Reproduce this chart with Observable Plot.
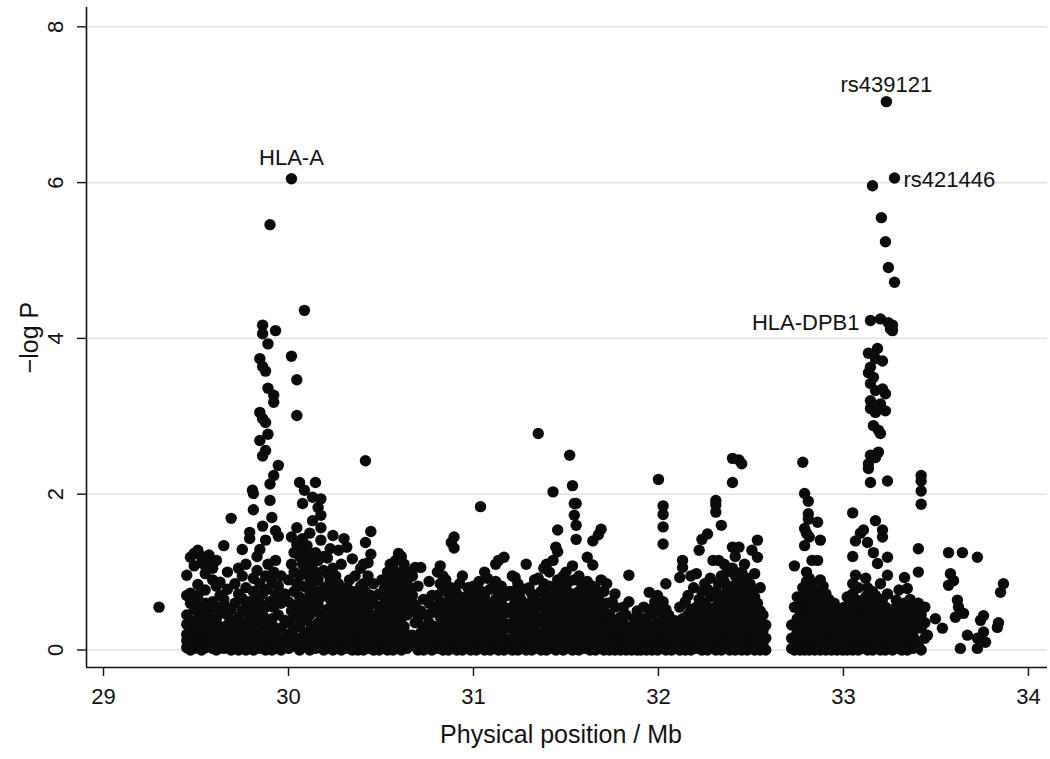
<!DOCTYPE html>
<html><head><meta charset="utf-8">
<script src="https://cdn.jsdelivr.net/npm/d3@7"></script>
<script src="https://cdn.jsdelivr.net/npm/@observablehq/plot@0.6"></script>
<style>body{margin:0;background:#fff}</style>
</head><body><div id="chart"></div>
<script>
// Each entry: [position (Mb), -log P values of SNPs at that position ...]
const regionA = [
[29.3, 0.55],
[29.45, 0.03, 0.12, 0.2, 0.33, 0.45, 0.7, 0.96],
[29.47, 0.0, 0.08, 0.16, 0.27, 0.38, 0.6, 0.73, 1.19],
[29.49, 0.02, 0.1, 0.22, 0.3, 0.52, 0.62, 1.08, 1.24],
[29.51, 0.05, 0.14, 0.25, 0.4, 0.7, 0.84, 1.28],
[29.53, 0.0, 0.09, 0.18, 0.3, 0.45, 0.56, 1.12, 1.2],
[29.55, 0.03, 0.12, 0.21, 0.35, 0.6, 0.77, 0.98, 1.08],
[29.57, 0.06, 0.15, 0.28, 0.42, 0.5, 1.15, 1.22],
[29.59, 0.02, 0.1, 0.2, 0.33, 0.62, 0.9, 1.05],
[29.61, 0.0, 0.12, 0.25, 0.4, 0.55, 0.82, 1.15],
[29.63, 0.04, 0.16, 0.3, 0.47, 0.7, 0.87],
[29.65, 0.02, 0.1, 0.22, 0.58, 0.65, 1.34],
[29.67, 0.05, 0.18, 0.32, 0.45, 0.78, 1.0],
[29.69, 0.0, 0.08, 0.26, 0.38, 0.52, 1.69],
[29.71, 0.02, 0.13, 0.2, 0.6, 0.85],
[29.73, 0.0, 0.07, 0.3, 0.42, 0.72, 1.05],
[29.75, 0.04, 0.15, 0.24, 0.5, 0.66, 0.95, 1.29],
[29.77, 0.0, 0.1, 0.35, 0.58, 0.8, 1.1],
[29.79, 0.03, 0.18, 0.28, 0.45, 0.62, 1.43, 1.51],
[29.805, 2.05],
[29.81, 0.0, 0.1, 0.22, 0.4, 0.55, 0.75, 0.92, 1.8, 2.01],
[29.83, 0.05, 0.15, 0.3, 0.5, 0.68, 1.02, 1.2],
[29.845, 0.02, 0.2, 0.38, 0.6, 0.85, 1.29, 2.69, 3.05, 3.74],
[29.86, 0.08, 0.45, 0.72, 1.59, 2.49, 2.97, 3.64, 4.06, 4.17],
[29.876, 0.0, 0.25, 0.55, 0.95, 1.41, 2.56, 2.92, 3.58],
[29.889, 0.12, 0.35, 0.78, 1.1, 2.77, 3.36, 3.93],
[29.9, 0.04, 0.62, 1.92, 2.13, 5.46],
[29.91, 0.0, 0.18, 0.4, 0.88, 1.7],
[29.92, 0.08, 0.3, 0.55, 1.0, 2.24, 3.18, 3.27],
[29.93, 0.02, 0.22, 0.7, 1.15, 1.53, 4.1],
[29.945, 0.12, 0.45, 0.82, 1.46, 2.37],
[29.96, 0.0, 0.28, 0.6, 0.95],
[29.98, 0.05, 0.15, 0.38, 0.72],
[30.0, 0.02, 0.2, 0.35, 0.62, 0.9],
[30.016, 0.1, 0.5, 1.1, 1.45, 3.77, 6.05],
[30.03, 0.05, 0.28, 0.42, 0.75, 1.0, 1.25],
[30.045, 0.15, 0.58, 0.85, 1.35, 1.57, 3.01, 3.47],
[30.06, 0.0, 0.3, 0.48, 0.68, 0.95, 1.2, 2.15],
[30.076, 0.1, 0.4, 0.6, 0.82, 1.1, 1.43, 1.88],
[30.086, 0.22, 0.52, 1.0, 1.3, 2.05, 4.36],
[30.1, 0.03, 0.15, 0.38, 0.55, 0.8, 1.05, 1.34],
[30.115, 0.0, 0.25, 0.45, 0.7, 0.92, 1.2, 1.5],
[30.13, 0.08, 0.3, 0.62, 0.85, 1.1, 1.66, 1.96],
[30.146, 0.02, 0.2, 0.5, 0.75, 1.0, 1.25, 2.15],
[30.16, 0.12, 0.35, 0.58, 0.9, 1.15, 1.83],
[30.175, 0.05, 0.28, 0.45, 0.68, 1.41, 1.57, 1.73, 1.94],
[30.19, 0.0, 0.18, 0.4, 0.8, 1.02, 1.2],
[30.21, 0.02, 0.14, 0.3, 0.52, 0.75, 0.98, 1.18],
[30.225, 0.08, 0.25, 0.45, 0.65, 0.88, 1.3],
[30.24, 0.0, 0.18, 0.36, 0.6, 0.82, 1.05, 1.47],
[30.255, 0.1, 0.3, 0.5, 0.72, 0.95],
[30.27, 0.04, 0.2, 0.4, 0.62, 0.85, 1.28],
[30.285, 0.0, 0.12, 0.33, 0.55, 0.78, 1.1],
[30.3, 0.06, 0.25, 0.45, 0.68, 1.43],
[30.315, 0.02, 0.15, 0.35, 0.58, 0.8, 1.32],
[30.33, 0.08, 0.22, 0.42, 0.65, 0.9],
[30.345, 0.0, 0.12, 0.3, 0.52, 0.75, 1.17],
[30.36, 0.05, 0.2, 0.4, 0.6, 0.95],
[30.375, 0.0, 0.1, 0.28, 0.48, 0.7],
[30.39, 0.03, 0.15, 0.35, 0.55, 0.82, 1.05],
[30.405, 0.0, 0.1, 0.25, 0.45, 0.62, 0.85, 1.1],
[30.416, 0.05, 0.18, 0.38, 0.55, 0.75, 1.38, 2.43],
[30.43, 0.02, 0.12, 0.3, 0.5, 0.95, 1.12],
[30.445, 0.08, 0.22, 0.4, 0.7, 1.23, 1.52],
[30.46, 0.0, 0.15, 0.32, 0.6, 0.85],
[30.475, 0.05, 0.1, 0.28, 0.45],
[30.49, 0.0, 0.2, 0.38, 0.55, 0.72]
];
const regionB = [
[30.505, 0.02, 0.15, 0.3, 0.5, 0.7, 0.9],
[30.52, 0.08, 0.2, 0.42, 0.6, 0.8],
[30.535, 0.0, 0.12, 0.35, 0.55, 0.78, 1.0],
[30.55, 0.05, 0.25, 0.45, 0.68, 0.88, 1.1],
[30.565, 0.0, 0.18, 0.38, 0.6, 0.82, 1.05],
[30.58, 0.1, 0.3, 0.52, 0.72, 0.95, 1.15],
[30.595, 0.03, 0.22, 0.45, 0.65, 0.9, 1.24],
[30.61, 0.0, 0.15, 0.4, 0.6, 0.8, 1.0, 1.2],
[30.625, 0.08, 0.3, 0.52, 0.75, 0.95, 1.1],
[30.64, 0.02, 0.2, 0.45, 0.68, 0.88],
[30.655, 0.12, 0.6, 0.8, 1.0],
[30.67, 0.19, 0.5, 0.7, 0.95],
[30.685, 0.05, 0.35, 0.58, 1.06],
[30.7, 0.0, 0.1, 0.4, 0.82],
[30.715, 0.05, 0.22, 0.5, 1.06],
[30.73, 0.0, 0.12, 0.3, 0.65],
[30.745, 0.08, 0.25, 0.45],
[30.76, 0.02, 0.15, 0.35, 0.6, 0.88],
[30.775, 0.0, 0.2, 0.48, 0.7],
[30.79, 0.05, 0.12, 0.3, 0.55],
[30.805, 0.02, 0.15, 0.3, 0.5, 0.7, 1.0],
[30.82, 0.08, 0.22, 0.42, 0.62, 0.85, 1.08],
[30.835, 0.0, 0.12, 0.35, 0.55, 0.78, 0.95],
[30.85, 0.05, 0.2, 0.4, 0.6, 0.9],
[30.865, 0.0, 0.1, 0.28, 0.5, 0.72],
[30.88, 0.03, 0.18, 0.38, 0.58, 0.8, 1.38],
[30.895, 0.08, 0.25, 0.45, 0.65, 1.31, 1.45],
[30.91, 0.0, 0.12, 0.3, 0.52, 0.72],
[30.925, 0.05, 0.2, 0.4, 0.6, 0.85],
[30.94, 0.0, 0.15, 0.35, 0.55, 0.95],
[30.955, 0.08, 0.25, 0.45, 0.68],
[30.97, 0.02, 0.18, 0.38, 0.6, 0.8],
[30.985, 0.0, 0.1, 0.3, 0.5, 0.7],
[31.0, 0.05, 0.2, 0.4, 0.62, 0.82],
[31.015, 0.0, 0.12, 0.3, 0.5, 0.7],
[31.03, 0.08, 0.25, 0.45, 0.65, 0.88],
[31.038, 1.84],
[31.045, 0.02, 0.15, 0.35, 0.55, 0.75],
[31.06, 0.0, 0.1, 0.28, 0.48, 0.68, 1.0],
[31.075, 0.05, 0.22, 0.42, 0.6, 0.92],
[31.09, 0.0, 0.15, 0.32, 0.52, 0.78],
[31.105, 0.02, 0.18, 0.38, 0.58, 0.8],
[31.12, 0.08, 0.25, 0.45, 0.65, 0.88, 1.1],
[31.135, 0.0, 0.12, 0.32, 0.52, 0.72, 1.15],
[31.15, 0.05, 0.2, 0.4, 0.6, 0.82],
[31.165, 0.0, 0.15, 0.35, 0.55, 1.19],
[31.18, 0.08, 0.28, 0.48, 0.7],
[31.195, 0.02, 0.12, 0.3, 0.5, 0.75],
[31.21, 0.0, 0.15, 0.35, 0.55, 0.75, 0.95],
[31.225, 0.05, 0.22, 0.42, 0.62, 0.93],
[31.24, 0.0, 0.1, 0.3, 0.5, 0.7, 0.85],
[31.255, 0.08, 0.25, 0.45, 0.65],
[31.27, 0.02, 0.18, 0.38, 0.58, 0.78],
[31.285, 0.0, 0.12, 0.32, 0.52, 1.1],
[31.3, 0.05, 0.2, 0.4, 0.6, 0.8],
[31.315, 0.0, 0.12, 0.32, 0.52, 0.72],
[31.33, 0.08, 0.25, 0.45, 0.65, 0.9],
[31.35, 0.02, 0.18, 0.38, 0.58, 0.92, 2.78],
[31.365, 0.0, 0.15, 0.35, 0.55, 0.75],
[31.38, 0.05, 0.22, 0.42, 0.62, 0.85, 1.05],
[31.395, 0.0, 0.1, 0.3, 0.5, 0.7, 1.1],
[31.41, 0.02, 0.2, 0.4, 0.6, 0.82, 1.0],
[31.43, 0.08, 0.28, 0.48, 0.68, 1.15, 2.03],
[31.445, 0.0, 0.15, 0.35, 0.55, 0.78, 1.32],
[31.455, 0.1, 0.45, 0.9, 1.26, 1.54],
[31.47, 0.05, 0.22, 0.42, 0.62, 0.85],
[31.485, 0.0, 0.12, 0.32, 0.52, 0.72, 0.95]
];
const regionC = [
[31.5, 0.02, 0.18, 0.38, 0.58, 0.8, 1.0],
[31.515, 0.08, 0.25, 0.45, 0.65, 0.88],
[31.52, 2.5],
[31.535, 0.0, 0.12, 0.32, 0.52, 0.72, 1.08, 2.11],
[31.545, 0.3, 0.9, 1.73, 1.88],
[31.555, 0.05, 0.2, 0.42, 0.62, 1.42, 1.6, 1.88],
[31.57, 0.0, 0.15, 0.35, 0.55, 0.75, 0.95],
[31.585, 0.08, 0.28, 0.48, 0.68, 0.85],
[31.6, 0.02, 0.15, 0.35, 0.55, 0.75],
[31.615, 0.08, 0.25, 0.45, 0.65, 0.88, 1.19],
[31.63, 0.0, 0.12, 0.3, 0.5, 0.7],
[31.645, 0.05, 0.2, 0.4, 0.6, 0.82, 1.09, 1.4],
[31.66, 0.0, 0.15, 0.35, 0.55, 0.78],
[31.675, 0.1, 0.28, 0.48, 0.68, 1.48],
[31.69, 0.02, 0.18, 0.38, 0.58, 0.9, 1.55],
[31.705, 0.0, 0.12, 0.3, 0.5, 0.75],
[31.72, 0.05, 0.2, 0.4, 0.6, 0.85],
[31.735, 0.0, 0.1, 0.28, 0.45],
[31.75, 0.08, 0.22, 0.4, 0.62],
[31.765, 0.0, 0.15, 0.35, 0.55, 0.72],
[31.78, 0.05, 0.12, 0.3],
[31.795, 0.0, 0.2, 0.42],
[31.81, 0.02, 0.15, 0.35, 0.55],
[31.825, 0.0, 0.1, 0.25, 0.45],
[31.84, 0.05, 0.2, 0.62, 0.96],
[31.855, 0.0, 0.12, 0.3],
[31.87, 0.08, 0.22, 0.4],
[31.885, 0.0, 0.15, 0.5],
[31.905, 0.0, 0.12, 0.3],
[31.92, 0.05, 0.2, 0.4, 0.55],
[31.935, 0.0, 0.15, 0.35],
[31.95, 0.08, 0.25, 0.52, 0.74],
[31.965, 0.0, 0.1, 0.3, 0.45],
[31.98, 0.05, 0.18, 0.62],
[31.995, 0.0, 0.12, 0.35, 0.7],
[32.0, 0.02, 0.15, 0.3, 0.5, 2.19],
[32.025, 0.05, 0.2, 0.4, 0.62, 1.36, 1.58, 1.74, 1.85],
[32.04, 0.0, 0.12, 0.28, 0.52, 0.85],
[32.055, 0.05, 0.18, 0.35, 0.45],
[32.07, 0.0, 0.1, 0.25],
[32.085, 0.08, 0.2, 0.38],
[32.1, 0.02, 0.15, 0.35],
[32.115, 0.0, 0.1, 0.25, 0.55, 0.93],
[32.13, 0.05, 0.2, 0.4, 1.06, 1.15],
[32.145, 0.0, 0.12, 0.3, 0.62],
[32.16, 0.08, 0.22, 0.45, 0.7],
[32.175, 0.0, 0.15, 0.35, 0.52, 0.95],
[32.19, 0.05, 0.1, 0.28, 0.48, 0.8],
[32.205, 0.02, 0.15, 0.35, 0.55, 0.98],
[32.22, 0.08, 0.22, 0.42, 0.65, 1.28],
[32.235, 0.0, 0.12, 0.3, 0.5, 0.75, 1.42],
[32.25, 0.05, 0.2, 0.4, 0.6, 0.85],
[32.265, 0.0, 0.15, 0.35, 0.55, 0.78, 1.49],
[32.28, 0.08, 0.25, 0.45, 0.68, 0.92],
[32.295, 0.02, 0.12, 0.32, 0.52, 0.72, 1.15],
[32.31, 0.0, 0.15, 0.35, 0.55, 0.75, 1.77, 1.86, 1.92],
[32.325, 0.05, 0.2, 0.42, 0.62, 0.85, 1.15],
[32.34, 0.0, 0.12, 0.3, 0.5, 0.7, 0.95, 1.6],
[32.355, 0.08, 0.25, 0.45, 0.65, 0.88, 1.1],
[32.37, 0.02, 0.18, 0.38, 0.58, 0.8, 1.0],
[32.385, 0.0, 0.1, 0.28, 0.48, 0.72, 1.05],
[32.4, 0.05, 0.2, 0.4, 0.6, 0.82, 1.05, 1.32, 2.15, 2.46],
[32.415, 0.0, 0.12, 0.32, 0.52, 0.72, 0.95, 1.2],
[32.435, 0.08, 0.25, 0.45, 0.65, 0.88, 1.32, 2.44],
[32.45, 0.0, 0.15, 0.35, 0.55, 0.78, 1.0, 2.39],
[32.465, 0.05, 0.22, 0.42, 0.62, 0.85, 1.1],
[32.48, 0.0, 0.12, 0.3, 0.5, 0.7, 0.92],
[32.495, 0.08, 0.2, 0.4, 0.6, 0.85],
[32.505, 0.02, 0.15, 0.35, 0.55, 0.75, 1.28],
[32.52, 0.0, 0.1, 0.28, 0.48, 0.68, 0.98],
[32.535, 0.05, 0.2, 0.4, 0.6, 1.19, 1.41],
[32.55, 0.0, 0.12, 0.3, 0.5, 0.8],
[32.565, 0.08, 0.25, 0.45],
[32.58, 0.0, 0.15, 0.32]
];
const regionD = [
[32.72, 0.02, 0.15, 0.32],
[32.735, 0.0, 0.55, 1.08],
[32.75, 0.08, 0.22, 0.4, 0.68],
[32.765, 0.0, 0.12, 0.3, 0.5],
[32.78, 0.05, 0.2, 0.4, 0.6, 0.8, 2.41],
[32.79, 0.0, 0.12, 0.32, 0.52, 0.72, 1.34, 1.56, 2.01],
[32.8, 0.08, 0.25, 0.45, 0.65, 0.88, 1.0, 1.5],
[32.81, 0.02, 0.18, 0.38, 0.58, 0.8, 1.68, 1.75, 1.91],
[32.815, 0.0, 0.1, 0.3, 0.5, 0.7, 0.92, 1.45],
[32.83, 0.05, 0.2, 0.42, 0.62, 0.85, 1.15],
[32.845, 0.0, 0.12, 0.32, 0.52, 0.75],
[32.86, 0.02, 0.15, 0.35, 0.55, 0.75, 1.15, 1.64],
[32.875, 0.0, 0.1, 0.28, 0.48, 0.68, 0.9, 1.41],
[32.89, 0.05, 0.22, 0.42, 0.62, 0.82],
[32.905, 0.0, 0.12, 0.32, 0.52, 0.72],
[32.92, 0.08, 0.25, 0.45, 0.65],
[32.935, 0.0, 0.15, 0.35, 0.55],
[32.95, 0.05, 0.12, 0.28, 0.45, 0.6],
[32.965, 0.0, 0.18, 0.38, 0.52],
[32.98, 0.02, 0.12, 0.3, 0.45],
[32.995, 0.0, 0.2, 0.35],
[33.005, 0.02, 0.15, 0.35, 0.55],
[33.02, 0.0, 0.1, 0.28, 0.48, 0.68],
[33.035, 0.05, 0.2, 0.4, 0.6],
[33.05, 0.0, 0.12, 0.32, 0.52, 0.72, 0.85, 1.2, 1.76],
[33.065, 0.08, 0.25, 0.45, 0.65, 0.96, 1.4],
[33.08, 0.0, 0.15, 0.35, 0.55, 0.8],
[33.092, 0.05, 0.2, 0.42, 0.62, 1.5],
[33.108, 0.02, 0.18, 0.38, 0.58, 1.54],
[33.12, 0.08, 0.25, 0.45, 0.68, 0.92],
[33.13, 0.0, 0.12, 0.32, 0.52, 0.8, 1.38],
[33.135, 3.81, 3.56, 2.39, 2.33],
[33.146, 0.05, 0.22, 0.42, 0.62, 2.15, 2.5, 3.1, 3.2, 3.42, 3.63, 4.23],
[33.157, 0.0, 0.15, 0.35, 0.55, 0.75, 5.96],
[33.162, 1.25, 2.88, 3.5],
[33.173, 0.08, 0.28, 0.48, 0.7, 1.66, 2.47, 3.05, 3.33, 3.74],
[33.184, 0.02, 0.18, 0.38, 0.58, 1.11, 3.87],
[33.189, 2.54, 2.82],
[33.2, 0.0, 0.12, 0.32, 0.52, 0.85, 2.78, 3.16, 4.25],
[33.205, 5.55],
[33.211, 0.05, 0.25, 0.45, 0.65, 1.45, 1.54, 3.35, 3.71],
[33.227, 0.0, 0.15, 0.35, 0.55, 3.07, 3.29, 5.24],
[33.232, 7.04],
[33.238, 0.08, 0.28, 0.48, 0.72, 0.96, 1.19, 2.17],
[33.243, 4.2, 4.91],
[33.254, 0.02, 0.18, 0.38, 4.12],
[33.265, 0.0, 0.12, 0.3, 0.5, 4.1, 4.17],
[33.276, 0.05, 0.22, 0.42, 4.72, 6.06],
[33.285, 0.02, 0.15, 0.35, 0.55, 0.64],
[33.3, 0.08, 0.25, 0.45, 0.77],
[33.315, 0.0, 0.12, 0.3, 0.52],
[33.33, 0.05, 0.2, 0.4, 0.6, 0.93],
[33.345, 0.0, 0.15, 0.35, 0.55, 0.79],
[33.36, 0.08, 0.25, 0.45, 0.65],
[33.375, 0.02, 0.08, 0.19, 0.4, 0.55],
[33.39, 0.12, 0.3, 0.5],
[33.405, 0.05, 0.38, 0.6, 1.0, 1.3],
[33.42, 0.0, 0.28, 0.45, 1.87, 2.04, 2.17, 2.24],
[33.44, 0.15, 0.35, 0.55],
[33.454, 0.19],
[33.497, 0.4],
[33.535, 0.28],
[33.568, 0.83, 1.25],
[33.578, 0.98],
[33.595, 0.89],
[33.605, 0.42],
[33.616, 0.64],
[33.622, 0.55],
[33.632, 0.02],
[33.643, 1.25],
[33.649, 0.47],
[33.67, 0.19],
[33.724, 0.02, 0.15, 1.19],
[33.741, 0.38],
[33.757, 0.23, 0.44],
[33.768, 0.1],
[33.832, 0.29],
[33.838, 0.35],
[33.849, 0.74],
[33.865, 0.85]
];

// Annotated SNPs
const labelNames = ["HLA-A", "rs439121", "rs421446", "HLA-DPB1"];
const labelPos = [30.016, 33.232, 33.276, 33.146];
const labelLogP = [6.05, 7.04, 6.06, 4.23];

const xTicks = [29, 30, 31, 32, 33, 34];
const yTicks = [0, 2, 4, 6, 8];
const xTitle = "Physical position / Mb";
const yTitle = "\u2212log P";

const points = [...regionA, ...regionB, ...regionC, ...regionD]
  .flatMap(([pos, ...ys]) => ys.map(logp => ({pos, logp})));
const labels = labelNames.map((name, i) => ({name, pos: labelPos[i], logp: labelLogP[i]}));
const lab = n => labels.filter(d => d.name === n);

const xDomain = [28.908, 34.103];
const yDomain = [-0.225, 8.248];
const font = "'Liberation Sans', Arial, Helvetica, sans-serif";

const chart = Plot.plot({
  width: 1050,
  height: 759,
  marginLeft: 86,
  marginRight: 3,
  marginTop: 7,
  marginBottom: 92,
  x: {domain: xDomain, axis: null},
  y: {domain: yDomain, axis: null},
  style: {fontFamily: font, fontSize: "20px", color: "#111", background: "#fff", overflow: "visible"},
  marks: [
    Plot.ruleY(yTicks, {stroke: "#e2e2e2", strokeWidth: 1.6}),
    Plot.dot(points, {x: "pos", y: "logp", r: 5.7, fill: "#0b0b0b", stroke: "none"}),
    Plot.ruleX([xDomain[0]], {stroke: "#111", strokeWidth: 1.6}),
    Plot.ruleY([yDomain[0]], {stroke: "#111", strokeWidth: 1.6}),
    Plot.axisX(xTicks, {anchor: "bottom", tickSize: 9, tickPadding: 12, fontSize: 22, tickFormat: d => String(d), label: null, strokeWidth: 1.4, stroke: "#111"}),
    Plot.axisY(yTicks, {anchor: "left", tickSize: 9, tickFormat: () => "", label: null, strokeWidth: 1.4, stroke: "#111"}),
    Plot.text(yTicks, {y: d => d, text: d => String(d), frameAnchor: "left", textAnchor: "middle", dx: -31, rotate: -90, fontSize: 22, fill: "#111"}),
    Plot.text([yTitle], {frameAnchor: "left", textAnchor: "middle", dx: -57, rotate: -90, fontSize: 25, fill: "#111"}),
    Plot.text([xTitle], {frameAnchor: "bottom", textAnchor: "middle", dy: 75, dx: -6, fontSize: 25, fill: "#111"}),
    Plot.text(lab("HLA-A"), {x: "pos", y: "logp", text: "name", dy: -21, fontSize: 22, fill: "#111"}),
    Plot.text(lab("rs439121"), {x: "pos", y: "logp", text: "name", dy: -17, fontSize: 22, fill: "#111"}),
    Plot.text(lab("rs421446"), {x: "pos", y: "logp", text: "name", textAnchor: "start", dx: 9, dy: 2, fontSize: 22, fill: "#111"}),
    Plot.text(lab("HLA-DPB1"), {x: "pos", y: "logp", text: "name", textAnchor: "end", dx: -11, dy: 2, fontSize: 22, fill: "#111"})
  ]
});
document.getElementById("chart").append(chart);
</script>
</body></html>
